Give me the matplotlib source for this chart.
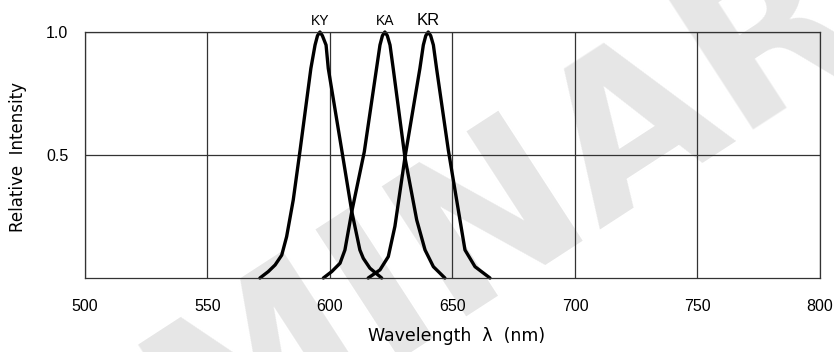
import matplotlib
import matplotlib.pyplot as plt

matplotlib.use("Agg")

# Spectra (wavelength in nm, relative intensity)
ky_wl = [571.4, 574.8, 577.6, 580.3, 582.3, 585.0, 587.8, 592.2, 593.9, 594.9,
         595.9, 596.9, 598.4, 599.3, 604.8, 608.9, 612.2, 613.6, 616.3, 621.1]
ky_int = [0, 0.026, 0.053, 0.093, 0.168, 0.317, 0.52, 0.852, 0.947, 0.985,
          1.0, 0.985, 0.947, 0.852, 0.52, 0.27, 0.114, 0.08, 0.04, 0]

ka_wl = [597.3, 600.7, 604.1, 606.1, 608.9, 614.0, 619.0, 620.4, 621.4, 622.4,
         623.4, 624.5, 625.8, 630.6, 635.4, 638.8, 642.2, 646.9]
ka_int = [0, 0.026, 0.06, 0.114, 0.27, 0.513, 0.852, 0.947, 0.985, 1.0,
          0.985, 0.947, 0.852, 0.49, 0.236, 0.114, 0.046, 0]

kr_wl = [615.6, 620.4, 623.8, 626.5, 630.6, 636.7, 638.1, 639.1, 640.1, 641.1,
         642.2, 643.5, 648.3, 651.7, 655.1, 659.2, 665.3]
kr_int = [0, 0.033, 0.087, 0.21, 0.49, 0.852, 0.947, 0.985, 1.0, 0.985,
          0.947, 0.852, 0.52, 0.317, 0.114, 0.046, 0]

series_names = ["KY", "KA", "KR"]
peak_wl = [596.0, 622.4, 640.1]
x_ticks = [500, 550, 600, 650, 700, 750, 800]
y_ticks = [0.5, 1.0]
y_tick_labels = ["0.5", "1.0"]

tick_font = ["Liberation Sans", "DejaVu Sans"]

fig = plt.figure(figsize=(8.34, 3.52), dpi=100)
ax = fig.add_axes([0.1019, 0.2102, 0.8813, 0.6989])
ax.patch.set_visible(False)

# watermark behind everything (baseline starts far outside the lower left)
fig.text(-0.438, -1.398, "PRELIMINARY", rotation=33, rotation_mode="anchor",
         ha="left", va="baseline", fontsize=153, fontweight="bold",
         family="DejaVu Sans", color="#e6e6e6", zorder=-1)

for wl, inten in [(ky_wl, ky_int), (ka_wl, ka_int), (kr_wl, kr_int)]:
    ax.plot(wl, inten, color="black", lw=2.4,
            solid_joinstyle="round", solid_capstyle="round", clip_on=False)

for name, wl in zip(series_names, peak_wl):
    size = 12 if name == "KR" else 10
    ax.text(wl, 1.045, name, ha="center", va="center", fontsize=size,
            family=tick_font, clip_on=False)

ax.set_xlim(500, 800)
ax.set_ylim(0, 1.0)
ax.set_xticks(x_ticks)
ax.set_yticks(y_ticks)
ax.set_yticklabels(y_tick_labels)
ax.tick_params(length=0, labelsize=11.5)
ax.tick_params(axis="x", pad=15)
ax.tick_params(axis="y", pad=12)
for lbl in ax.get_xticklabels() + ax.get_yticklabels():
    lbl.set_family(tick_font)

ax.grid(True, color="#333333", lw=0.9)
for spine in ax.spines.values():
    spine.set_color("#333333")
    spine.set_linewidth(0.9)

fig.text(0.548, 1 - 336 / 352, "Wavelength  λ  (nm)", ha="center", va="center",
         fontsize=12.5)
fig.text(0.022, 1 - 157 / 352, "Relative  Intensity", ha="center", va="center",
         rotation=90, fontsize=12)

fig.savefig("out.png", dpi=100)
